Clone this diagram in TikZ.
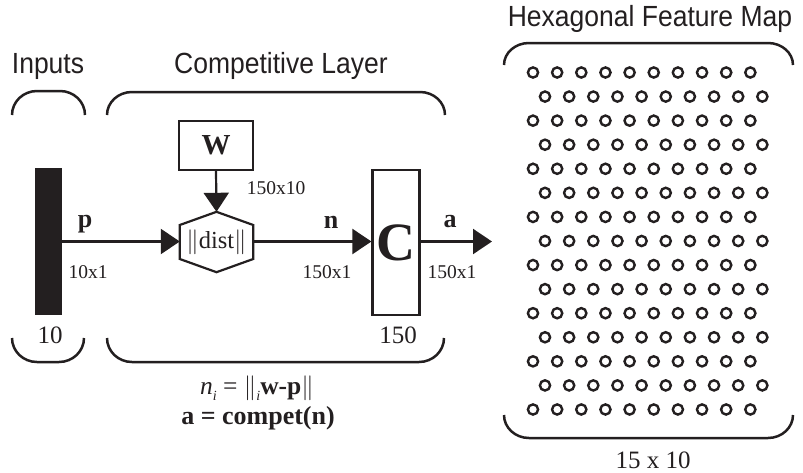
\documentclass[tikz,border=0pt]{standalone}
\usepackage{fontspec}
\setmainfont{Liberation Serif}
\newfontfamily\arialf{Liberation Sans}
\usetikzlibrary{arrows.meta}
\definecolor{ink}{HTML}{231F20}
\newcommand{\ttl}[1]{\scalebox{1}[1.1]{#1}}
\tikzset{
  brk/.style={draw=ink,line width=2.5pt},
  conn/.style={draw=ink,line width=2.2pt,-{Triangle[length=19pt,width=25pt]}},
  boxn/.style={draw=ink,line width=2.2pt,inner sep=0pt},
  title/.style={font=\arialf\fontsize{26.5}{30}\selectfont,text=ink,inner sep=0pt},
  lbl/.style={font=\bfseries\fontsize{26}{30}\selectfont,text=ink,inner sep=0pt},
  dim/.style={font=\fontsize{19.5}{22}\selectfont,text=ink,inner sep=0pt},
  big/.style={font=\fontsize{25}{28}\selectfont,text=ink,inner sep=0pt},
  cell/.style={draw=ink,line width=2.4pt}
}
\begin{document}
\begin{tikzpicture}[x=1pt,y=-1pt]
\useasboundingbox (0,0) rectangle (803,472);
% titles
\node[title] (tin) at (48,66) {\ttl{Inputs}};
\node[title] (tcl) at (281,66) {\ttl{Competitive Layer}};
\node[title] (thx) at (650,19) {\ttl{Hexagonal Feature Map}};
% brackets (top)
\draw[brk] (12,115) arc[start angle=180,end angle=270,x radius=25,y radius=24] -- (60,91) arc[start angle=270,end angle=360,x radius=25,y radius=24];
\draw[brk] (107,115) arc[start angle=180,end angle=270,x radius=25,y radius=23] -- (420,92) arc[start angle=270,end angle=360,x radius=25,y radius=23];
\draw[brk] (504,65) arc[start angle=180,end angle=270,x radius=25,y radius=22] -- (768,43) arc[start angle=270,end angle=360,x radius=25,y radius=22];
% brackets (bottom)
\draw[brk] (12,338) arc[start angle=180,end angle=90,x radius=25,y radius=24] -- (59,362) arc[start angle=90,end angle=0,x radius=25,y radius=24];
\draw[brk] (107,338) arc[start angle=180,end angle=90,x radius=25,y radius=24] -- (419,362) arc[start angle=90,end angle=0,x radius=25,y radius=24];
\draw[brk] (504,415) arc[start angle=180,end angle=90,x radius=25,y radius=23] -- (768,438) arc[start angle=90,end angle=0,x radius=25,y radius=23];
% input bar
\node[fill=ink,minimum width=27pt,minimum height=147pt,inner sep=0pt] (bar) at (48.5,241.5) {};
% W box
\node[boxn,minimum width=74pt,minimum height=49pt,font=\bfseries\fontsize{29}{30}\selectfont,text=ink] (W) at (216,145.5) {W};
% hexagon
\node[minimum width=73pt,minimum height=60pt,inner sep=0pt,font=\fontsize{24.5}{28}\selectfont,text=ink] (dist) at (216.5,242) {$\|$dist$\|$};
\draw[ink,line width=2.2pt,line join=miter] (dist.north) -- (dist.east |- 0,225) -- (dist.east |- 0,259) -- (dist.south) -- (dist.west |- 0,259) -- (dist.west |- 0,225) -- cycle;
% C box
\node[boxn,minimum width=47pt,minimum height=145pt,font=\bfseries\fontsize{54}{56}\selectfont,text=ink] (C) at (396,242.5) {C};
\coordinate (out) at (492,241.5);
% connectors
\draw[conn] (W.south) -- (dist.north);
\draw[conn] (bar.east |- 0,241.5) -- (dist.west |- 0,241.5);
\draw[conn] (dist.east |- 0,241.5) -- (C.west |- 0,241.5);
\draw[conn] (C.east |- 0,241.5) -- (out);
% labels
\node[lbl] (lp) at (85,224) {p};
\node[lbl] (ln) at (331,222) {n};
\node[lbl] (la) at (450,222) {a};
\node[dim] (d1) at (88,272) {10x1};
\node[dim] (d2) at (327,272) {150x1};
\node[dim] (d3) at (452,272) {150x1};
\node[dim] (d4) at (276,188) {150x10};
\node[big] (s10) at (50,335) {10};
\node[big] (s150) at (398,335) {150};
\node[big] (s1510) at (653,460) {15 x 10};
% formulas
\node[font=\fontsize{25.5}{28}\selectfont,text=ink,inner sep=0pt] (f1) at (257,388) {\textit{n}\raisebox{-0.25em}{\fontsize{14}{14}\selectfont\textit{i}} = $\|$\raisebox{-0.25em}{\fontsize{14}{14}\selectfont\textit{i}}\textbf{w-p}$\|$};
\node[font=\bfseries\fontsize{26}{28}\selectfont,text=ink,inner sep=0pt] (f2) at (258,418) {a = compet(n)};
% feature map cells
\foreach \r in {0,...,14} {
  \foreach \c in {0,...,9} {
    \pgfmathsetmacro{\xx}{533+\c*24.15+mod(\r,2)*12}
    \pgfmathsetmacro{\yy}{72.5+\r*24.07}
    \draw[cell] (\xx,\yy) circle[radius=5.1pt];
  }
}
\end{tikzpicture}
\end{document}
